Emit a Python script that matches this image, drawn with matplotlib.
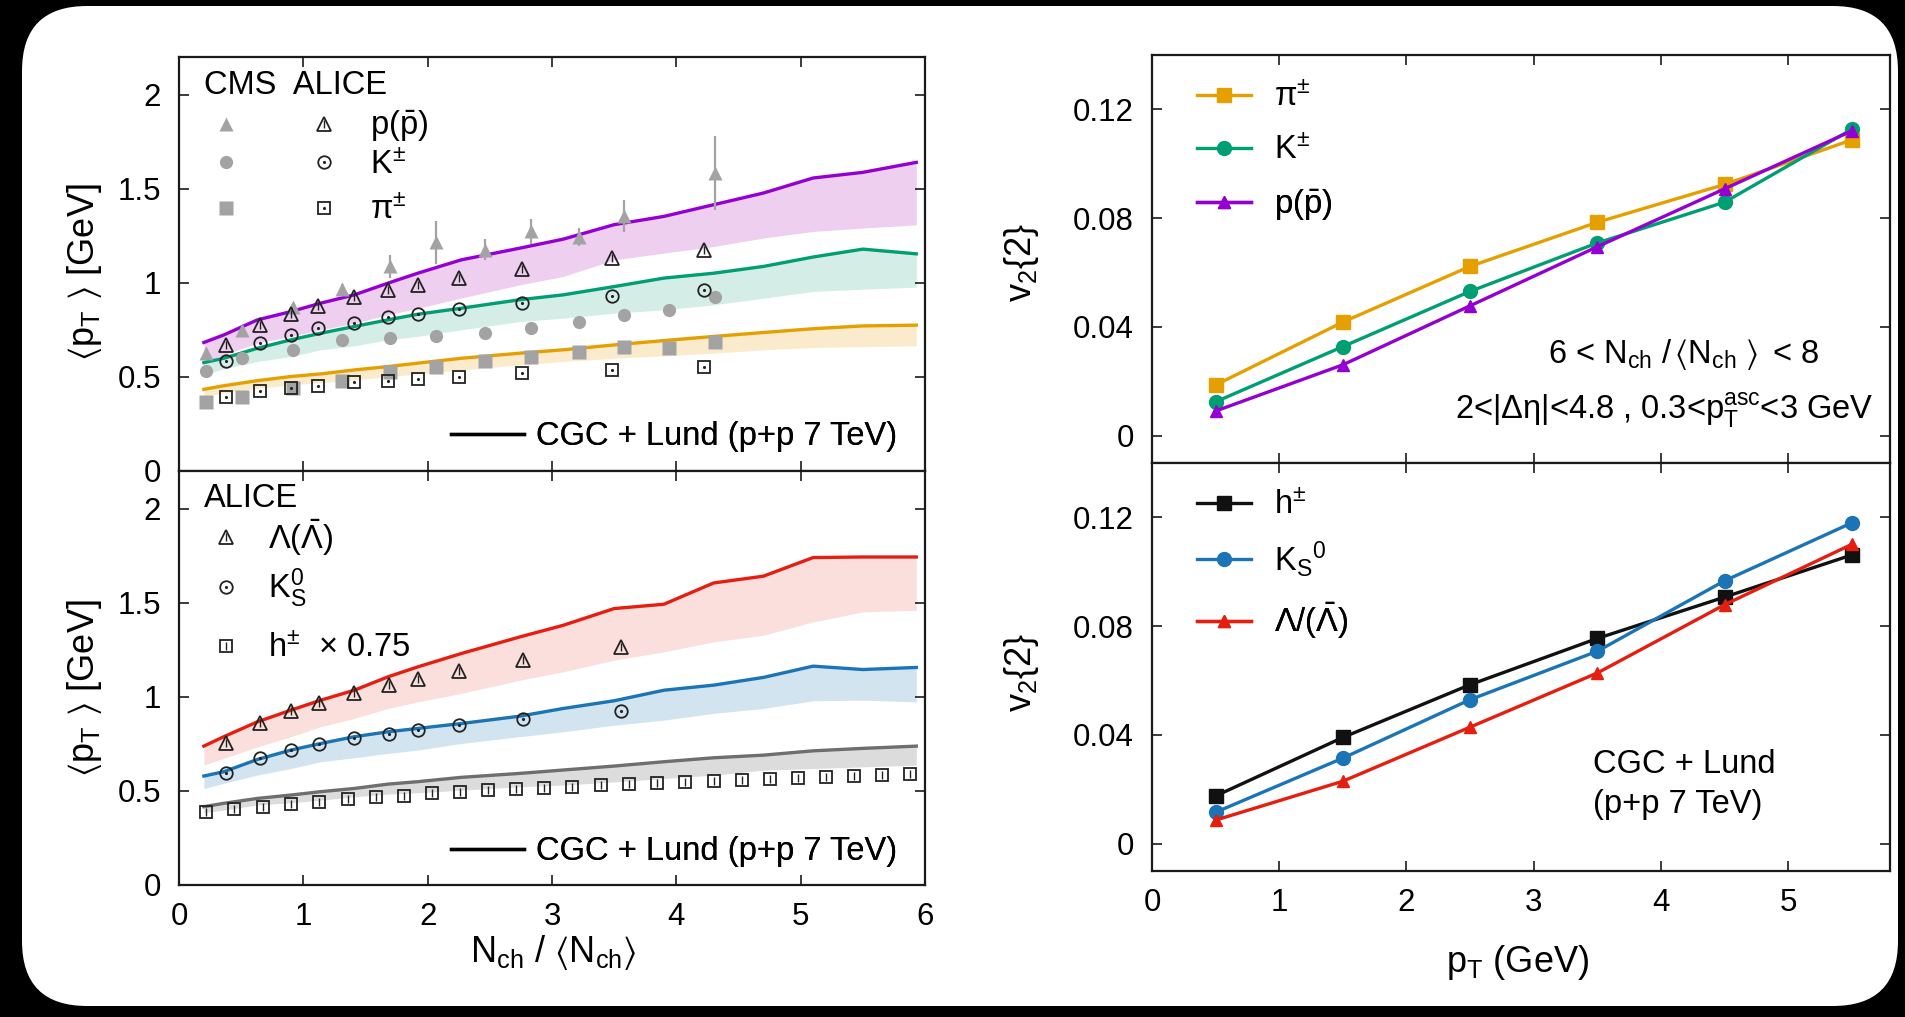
import numpy as np
import matplotlib
matplotlib.use('Agg')
import matplotlib.pyplot as plt
from matplotlib.patches import FancyBboxPatch
from matplotlib.lines import Line2D
from matplotlib.legend_handler import HandlerTuple

plt.rcParams['font.family'] = ['Liberation Sans', 'DejaVu Sans']
plt.rcParams['mathtext.fontset'] = 'custom'
plt.rcParams['mathtext.rm'] = 'Liberation Sans'
plt.rcParams['mathtext.it'] = 'Liberation Sans:italic'
plt.rcParams['mathtext.bf'] = 'Liberation Sans:bold'
plt.rcParams['mathtext.default'] = 'regular'

# ---------------- data ----------------
model_x = [0.2, 0.36, 0.63, 0.9, 1.14, 1.41, 1.68, 1.92, 2.27, 2.74, 3.09,
           3.5, 3.9, 4.3, 4.7, 5.1, 5.5, 5.93]
# top-left: CGC + Lund model (line = upper edge of band)
p_line = [0.683, 0.723, 0.803, 0.847, 0.892, 0.936, 0.998, 1.051, 1.122, 1.184,
          1.232, 1.309, 1.353, 1.415, 1.477, 1.557, 1.587, 1.640]
p_low = [0.581, 0.617, 0.680, 0.715, 0.750, 0.786, 0.830, 0.865, 0.919, 0.989,
         1.034, 1.122, 1.158, 1.193, 1.238, 1.273, 1.291, 1.308]
K_line = [0.576, 0.599, 0.652, 0.697, 0.732, 0.768, 0.803, 0.833, 0.865, 0.910,
          0.936, 0.980, 1.025, 1.051, 1.087, 1.137, 1.179, 1.154]
K_low = [0.511, 0.543, 0.582, 0.608, 0.644, 0.665, 0.697, 0.715, 0.750, 0.794,
         0.812, 0.839, 0.856, 0.883, 0.918, 0.954, 0.966, 0.977]
pi_line = [0.434, 0.453, 0.480, 0.502, 0.516, 0.537, 0.555, 0.573, 0.599, 0.626,
           0.644, 0.670, 0.693, 0.715, 0.736, 0.756, 0.771, 0.775]
pi_low = [0.399, 0.413, 0.440, 0.457, 0.470, 0.484, 0.502, 0.516, 0.537, 0.564,
          0.582, 0.599, 0.612, 0.626, 0.644, 0.656, 0.661, 0.665]

# CMS data (filled grey)
cms_x = [0.22, 0.51, 0.92, 1.31, 1.70, 2.07, 2.46, 2.83, 3.22, 3.58, 3.94, 4.31]
cms_p = [0.626, 0.750, 0.874, 0.966, 1.087, 1.215, 1.176, 1.273, 1.243, 1.353, np.nan, 1.583]
cms_p_err = [0.02, 0.02, 0.02, 0.03, 0.062, 0.115, 0.057, 0.067, 0.05, 0.085, np.nan, 0.195]
cms_K = [0.534, 0.599, 0.644, 0.697, 0.706, 0.718, 0.732, 0.762, 0.794, 0.830, 0.853, 0.924]
cms_pi = [0.369, 0.395, 0.443, 0.479, 0.528, 0.555, 0.587, 0.608, 0.635, 0.658, 0.656, 0.683]

# ALICE data (open)
alice_x = [0.377, 0.65, 0.90, 1.12, 1.41, 1.68, 1.92, 2.25, 2.76, 3.48, 4.22]
alice_p = [0.670, 0.777, 0.833, 0.878, 0.922, 0.963, 0.989, 1.025, 1.073, 1.131, 1.176]
alice_K = [0.587, 0.679, 0.723, 0.759, 0.789, 0.816, 0.833, 0.860, 0.892, 0.931, 0.963]
alice_pi = [0.392, 0.426, 0.443, 0.454, 0.472, 0.480, 0.491, 0.502, 0.520, 0.537, 0.552]

# bottom-left: model
lam_line = [0.738, 0.788, 0.867, 0.929, 0.982, 1.035, 1.106, 1.159, 1.230, 1.318,
            1.380, 1.469, 1.492, 1.605, 1.641, 1.740, 1.743, 1.743]
lam_low = [0.637, 0.673, 0.734, 0.788, 0.841, 0.885, 0.938, 0.973, 1.018, 1.088,
           1.133, 1.195, 1.239, 1.292, 1.327, 1.398, 1.451, 1.460]
k0_line = [0.579, 0.602, 0.667, 0.717, 0.752, 0.788, 0.814, 0.832, 0.858, 0.897,
           0.938, 0.979, 1.035, 1.062, 1.103, 1.163, 1.145, 1.156]
k0_low = [0.513, 0.540, 0.584, 0.619, 0.655, 0.676, 0.699, 0.717, 0.752, 0.788,
          0.814, 0.849, 0.876, 0.912, 0.938, 0.979, 0.982, 0.973]
h_line = [0.416, 0.434, 0.460, 0.478, 0.496, 0.513, 0.536, 0.549, 0.572, 0.593,
          0.611, 0.632, 0.655, 0.676, 0.690, 0.713, 0.726, 0.738]
h_low = [0.384, 0.398, 0.425, 0.437, 0.451, 0.469, 0.483, 0.490, 0.504, 0.522,
         0.531, 0.548, 0.566, 0.584, 0.610, 0.619, 0.628, 0.637]

# bottom-left: ALICE data
alice2_x = [0.376, 0.649, 0.903, 1.129, 1.41, 1.69, 1.924, 2.248, 2.763, 3.554]
alice_lam = [0.756, 0.862, 0.926, 0.968, 1.021, 1.062, 1.097, 1.138, 1.195, 1.265]
alice_k0 = [0.596, 0.673, 0.717, 0.747, 0.782, 0.805, 0.823, 0.849, 0.881, 0.924]
h_x = [0.220, 0.446, 0.676, 0.903, 1.129, 1.359, 1.585, 1.811, 2.034, 2.260,
       2.486, 2.712, 2.938, 3.164, 3.391, 3.617, 3.847, 4.073, 4.299, 4.525,
       4.751, 4.977, 5.204, 5.430, 5.656, 5.882]
h_y = [0.389, 0.402, 0.416, 0.430, 0.442, 0.455, 0.466, 0.474, 0.487, 0.495,
       0.504, 0.510, 0.517, 0.522, 0.531, 0.536, 0.540, 0.545, 0.552, 0.557,
       0.563, 0.566, 0.575, 0.579, 0.584, 0.588]

# right panels: v2{2} vs pT
pt = [0.5, 1.5, 2.5, 3.5, 4.5, 5.5]
v2_pi = [0.0187, 0.0418, 0.0623, 0.0785, 0.0924, 0.1088]
v2_K = [0.0125, 0.0328, 0.0531, 0.0709, 0.0859, 0.1127]
v2_p = [0.0091, 0.0261, 0.0478, 0.0695, 0.0908, 0.1121]
v2_h = [0.0176, 0.0391, 0.0585, 0.0755, 0.0907, 0.1062]
v2_K0 = [0.0116, 0.0315, 0.0530, 0.0708, 0.0967, 0.1180]
v2_lam = [0.0087, 0.0230, 0.0429, 0.0628, 0.0879, 0.1101]

left_yticks = [0, 0.5, 1, 1.5, 2]
left_yticklabels = ['0', '0.5', '1', '1.5', '2']
left_xticks = [0, 1, 2, 3, 4, 5, 6]
right_yticks = [0, 0.04, 0.08, 0.12]
right_yticklabels = ['0', '0.04', '0.08', '0.12']
right_xticks = [0, 1, 2, 3, 4, 5]

# ---------------- style ----------------
c_purple = '#9400d3'
c_pink_fill = '#c040c0'
c_green = '#009e73'
c_orange = '#e69f00'
c_red = '#e51e10'
c_blue = '#1a74b5'
c_hgray = '#6e6e6e'
c_black = '#111111'
gray = '#a3a3a3'
ink = '#222222'
TICK_FS = 22.5
TXT_FS = 23.5
LAB_FS = 26
EM = TXT_FS * 100 / 72.0   # legend font size in pixels

W, H = 1905, 1017
fig = plt.figure(figsize=(W / 100, H / 100), dpi=100, facecolor='black')
bg = fig.add_axes([0, 0, 1, 1], zorder=-10)
bg.set_xlim(0, W)
bg.set_ylim(0, H)
bg.axis('off')
bg.add_patch(FancyBboxPatch((22, 11), 1876, 1000,
                            boxstyle='round,pad=0,rounding_size=65',
                            fc='white', ec='none'))


def px_axes(x0, y0, x1, y1):
    return fig.add_axes([x0 / W, (H - y1) / H, (x1 - x0) / W, (y1 - y0) / H])


axA = px_axes(179, 57, 925, 471)
axB = px_axes(179, 471, 925, 885)
axC = px_axes(1152, 55, 1890, 463)
axD = px_axes(1152, 463, 1890, 871)


def style(ax):
    for s in ax.spines.values():
        s.set_linewidth(1.6)
        s.set_color('#1a1a1a')
    ax.tick_params(direction='in', length=7, width=1.2, top=True, right=True,
                   labelsize=TICK_FS, color='#1a1a1a')
    ax.tick_params(axis='y', pad=13)
    ax.tick_params(axis='x', pad=12)


for ax in (axA, axB):
    style(ax)
    ax.set_xlim(0, 6)
    ax.set_ylim(0, 2.2)
    ax.set_xticks(left_xticks)
    ax.set_yticks(left_yticks)
    ax.set_yticklabels(left_yticklabels)
axA.tick_params(labelbottom=False)

for ax in (axC, axD):
    style(ax)
    ax.set_xlim(0, 5.8)
    ax.set_ylim(-0.01, 0.14)
    ax.set_xticks(right_xticks)
    ax.set_yticks(right_yticks)
    ax.set_yticklabels(right_yticklabels)
axC.tick_params(labelbottom=False)


class Pair(tuple):
    pass


def H2(**kw):
    return Line2D([], [], ls='none', **kw)


def row_legend(ax, handle, label, x, y, hlen, tpad, loc='center left', **kw):
    leg = ax.legend([handle], [label], loc=loc, bbox_to_anchor=(x, y),
                    frameon=False, fontsize=TXT_FS, handlelength=hlen,
                    handletextpad=tpad, borderpad=0, borderaxespad=0,
                    numpoints=1, **kw)
    ax.add_artist(leg)
    return leg


# ---------- panel A ----------
for line, low, col, fcol, a in ((p_line, p_low, c_purple, c_pink_fill, 0.25),
                                (K_line, K_low, c_green, c_green, 0.17),
                                (pi_line, pi_low, c_orange, c_orange, 0.2)):
    axA.fill_between(model_x, low, line, color=fcol, alpha=a, lw=0, zorder=1)
    axA.plot(model_x, line, color=col, lw=2.4, zorder=2)

axA.errorbar(cms_x, cms_p, yerr=cms_p_err, fmt='^', color=gray, ms=10,
             mec='none', elinewidth=1.6, capsize=0, zorder=3)
axA.plot(cms_x, cms_K, 'o', color=gray, ms=9.5, mec='none', zorder=3)
axA.plot(cms_x, cms_pi, 's', color=gray, ms=9.5, mec='none', zorder=3)

open_kw = dict(ls='none', mfc='none', mec=ink, mew=1.3, zorder=4)
axA.plot(alice_x, alice_p, '^', ms=9.5, **open_kw)
axA.plot(alice_x, alice_p, '|', color=ink, ms=6, mew=1.0, zorder=4)
axA.plot(alice_x, alice_K, 'o', ms=9, **open_kw)
axA.plot(alice_x, alice_K, '.', color=ink, ms=2.5, zorder=4)
axA.plot(alice_x, alice_pi, 's', ms=9, **open_kw)
axA.plot(alice_x, alice_pi, '.', color=ink, ms=2.5, zorder=4)

axA.text(0.0335, 0.932, 'CMS  ALICE', transform=axA.transAxes, fontsize=TXT_FS,
         ha='left', va='center')

hA = [Pair((H2(marker='^', color=gray, ms=10, mec='none'),
            (H2(marker='^', ms=9.5, mfc='none', mec=ink, mew=1.3),
             H2(marker='|', color=ink, ms=6, mew=1.0)))),
      Pair((H2(marker='o', color=gray, ms=9.5, mec='none'),
            (H2(marker='o', ms=9, mfc='none', mec=ink, mew=1.3),
             H2(marker='.', color=ink, ms=2.5)))),
      Pair((H2(marker='s', color=gray, ms=9.5, mec='none'),
            (H2(marker='s', ms=9, mfc='none', mec=ink, mew=1.3),
             H2(marker='.', color=ink, ms=2.5))))]
labA = [r'p($\bar{\mathrm{p}}$)', r'K$^{\pm}$', r'$\pi^{\pm}$']
rowsA = [0.832, 0.739, 0.629]
for hd, lb, yy in zip(hA, labA, rowsA):
    row_legend(axA, hd, lb, 0.0532, yy, 112 / EM, 39 / EM,
               handler_map={Pair: HandlerTuple(ndivide=None, pad=84 / EM)})
row_legend(axA, Line2D([], [], color='black', lw=2.4), 'CGC + Lund (p+p 7 TeV)',
           0.9625, 0.083, 73 / EM, 12 / EM, loc='center right')

# ---------- panel B ----------
for line, low, col, a in ((lam_line, lam_low, c_red, 0.14), (k0_line, k0_low, c_blue, 0.19),
                          (h_line, h_low, c_hgray, 0.24)):
    axB.fill_between(model_x, low, line, color=col, alpha=a, lw=0, zorder=1)
    axB.plot(model_x, line, color=col, lw=2.4, zorder=2)

axB.plot(alice2_x, alice_lam, '^', ms=9.5, **open_kw)
axB.plot(alice2_x, alice_lam, '|', color=ink, ms=6, mew=1.0, zorder=4)
axB.plot(alice2_x, alice_k0, 'o', ms=9, **open_kw)
axB.plot(alice2_x, alice_k0, '.', color=ink, ms=2.5, zorder=4)
axB.plot(h_x, h_y, 's', ms=9, **open_kw)
axB.plot(h_x, h_y, '|', color=ink, ms=6, mew=1.0, zorder=4)

axB.text(0.0335, 0.934, 'ALICE', transform=axB.transAxes, fontsize=TXT_FS,
         ha='left', va='center')
hB = [(H2(marker='^', ms=9.5, mfc='none', mec=ink, mew=1.3),
       H2(marker='|', color=ink, ms=6, mew=1.0)),
      (H2(marker='o', ms=9, mfc='none', mec=ink, mew=1.3),
       H2(marker='.', color=ink, ms=2.5)),
      (H2(marker='s', ms=9, mfc='none', mec=ink, mew=1.3),
       H2(marker='|', color=ink, ms=6, mew=1.0))]
labB = [r'$\Lambda(\bar{\Lambda})$', r'K$_S^0$', r'h$^{\pm}$  × 0.75']
rowsB = [0.839, 0.716, 0.571]
for hd, lb, yy in zip(hB, labB, rowsB):
    row_legend(axB, hd, lb, 0.0535, yy, 15 / EM, 34 / EM)
row_legend(axB, Line2D([], [], color='black', lw=2.4), 'CGC + Lund (p+p 7 TeV)',
           0.9625, 0.080, 73 / EM, 12 / EM, loc='center right')

# ---------- panel C ----------
lkw = dict(lw=2.4)
lc1, = axC.plot(pt, v2_pi, '-s', color=c_orange, ms=10, **lkw)
lc2, = axC.plot(pt, v2_K, '-o', color=c_green, ms=10, **lkw)
lc3, = axC.plot(pt, v2_p, '-^', color=c_purple, ms=9, **lkw)
rowsC = [0.896, 0.765, 0.632]
for hd, lb, yy in zip([lc1, lc2, lc3],
                      [r'$\pi^{\pm}$', r'K$^{\pm}$', r'p($\bar{\mathrm{p}}$)'], rowsC):
    row_legend(axC, hd, lb, 0.0606, yy, 54.5 / EM, 22.8 / EM)
axC.text(0.905, 0.244, r'6 < N$_{ch}$ /$\,\langle$N$_{ch}$ $\rangle\,$ < 8',
         transform=axC.transAxes, fontsize=TXT_FS, ha='right', va='baseline')
axC.text(0.977, 0.1095, r'2<|$\Delta\eta$|<4.8 , 0.3<p$_T^{asc}$<3 GeV',
         transform=axC.transAxes, fontsize=TXT_FS, ha='right', va='baseline')

# ---------- panel D ----------
ld1, = axD.plot(pt, v2_h, '-s', color=c_black, ms=10, **lkw)
ld2, = axD.plot(pt, v2_K0, '-o', color=c_blue, ms=10, **lkw)
ld3, = axD.plot(pt, v2_lam, '-^', color=c_red, ms=9, **lkw)
rowsD = [0.896, 0.765, 0.612]
for hd, lb, yy in zip([ld1, ld2, ld3],
                      [r'h$^{\pm}$', r'K$_S$$^0$', r'$\Lambda$/($\bar{\Lambda}$)'], rowsD):
    row_legend(axD, hd, lb, 0.0606, yy, 54.5 / EM, 22.8 / EM)
axD.text(0.598, 0.2395, 'CGC + Lund', transform=axD.transAxes, fontsize=TXT_FS,
         ha='left', va='baseline')
axD.text(0.598, 0.1426, '(p+p 7 TeV)', transform=axD.transAxes, fontsize=TXT_FS,
         ha='left', va='baseline')

# ---------- axis labels ----------
fig.text(85 / W, 1 - 272 / H, r'$\langle$p$_T$ $\rangle$ [GeV]', rotation=90,
         fontsize=LAB_FS, ha='center', va='center')
fig.text(85 / W, 1 - 688 / H, r'$\langle$p$_T$ $\rangle$ [GeV]', rotation=90,
         fontsize=LAB_FS, ha='center', va='center')
fig.text(1022 / W, 1 - 262 / H, r'v$_2${2}', rotation=90,
         fontsize=LAB_FS, ha='center', va='center')
fig.text(1022 / W, 1 - 672 / H, r'v$_2${2}', rotation=90,
         fontsize=LAB_FS, ha='center', va='center')
fig.text(553 / W, 1 - 953 / H, r'N$_{ch}$ / $\langle$N$_{ch}$$\rangle$',
         fontsize=LAB_FS, ha='center', va='center')
fig.text(1518 / W, 1 - 962 / H, r'p$_T$ (GeV)', fontsize=LAB_FS,
         ha='center', va='center')

fig.savefig('out.png', dpi=100, facecolor=fig.get_facecolor())
